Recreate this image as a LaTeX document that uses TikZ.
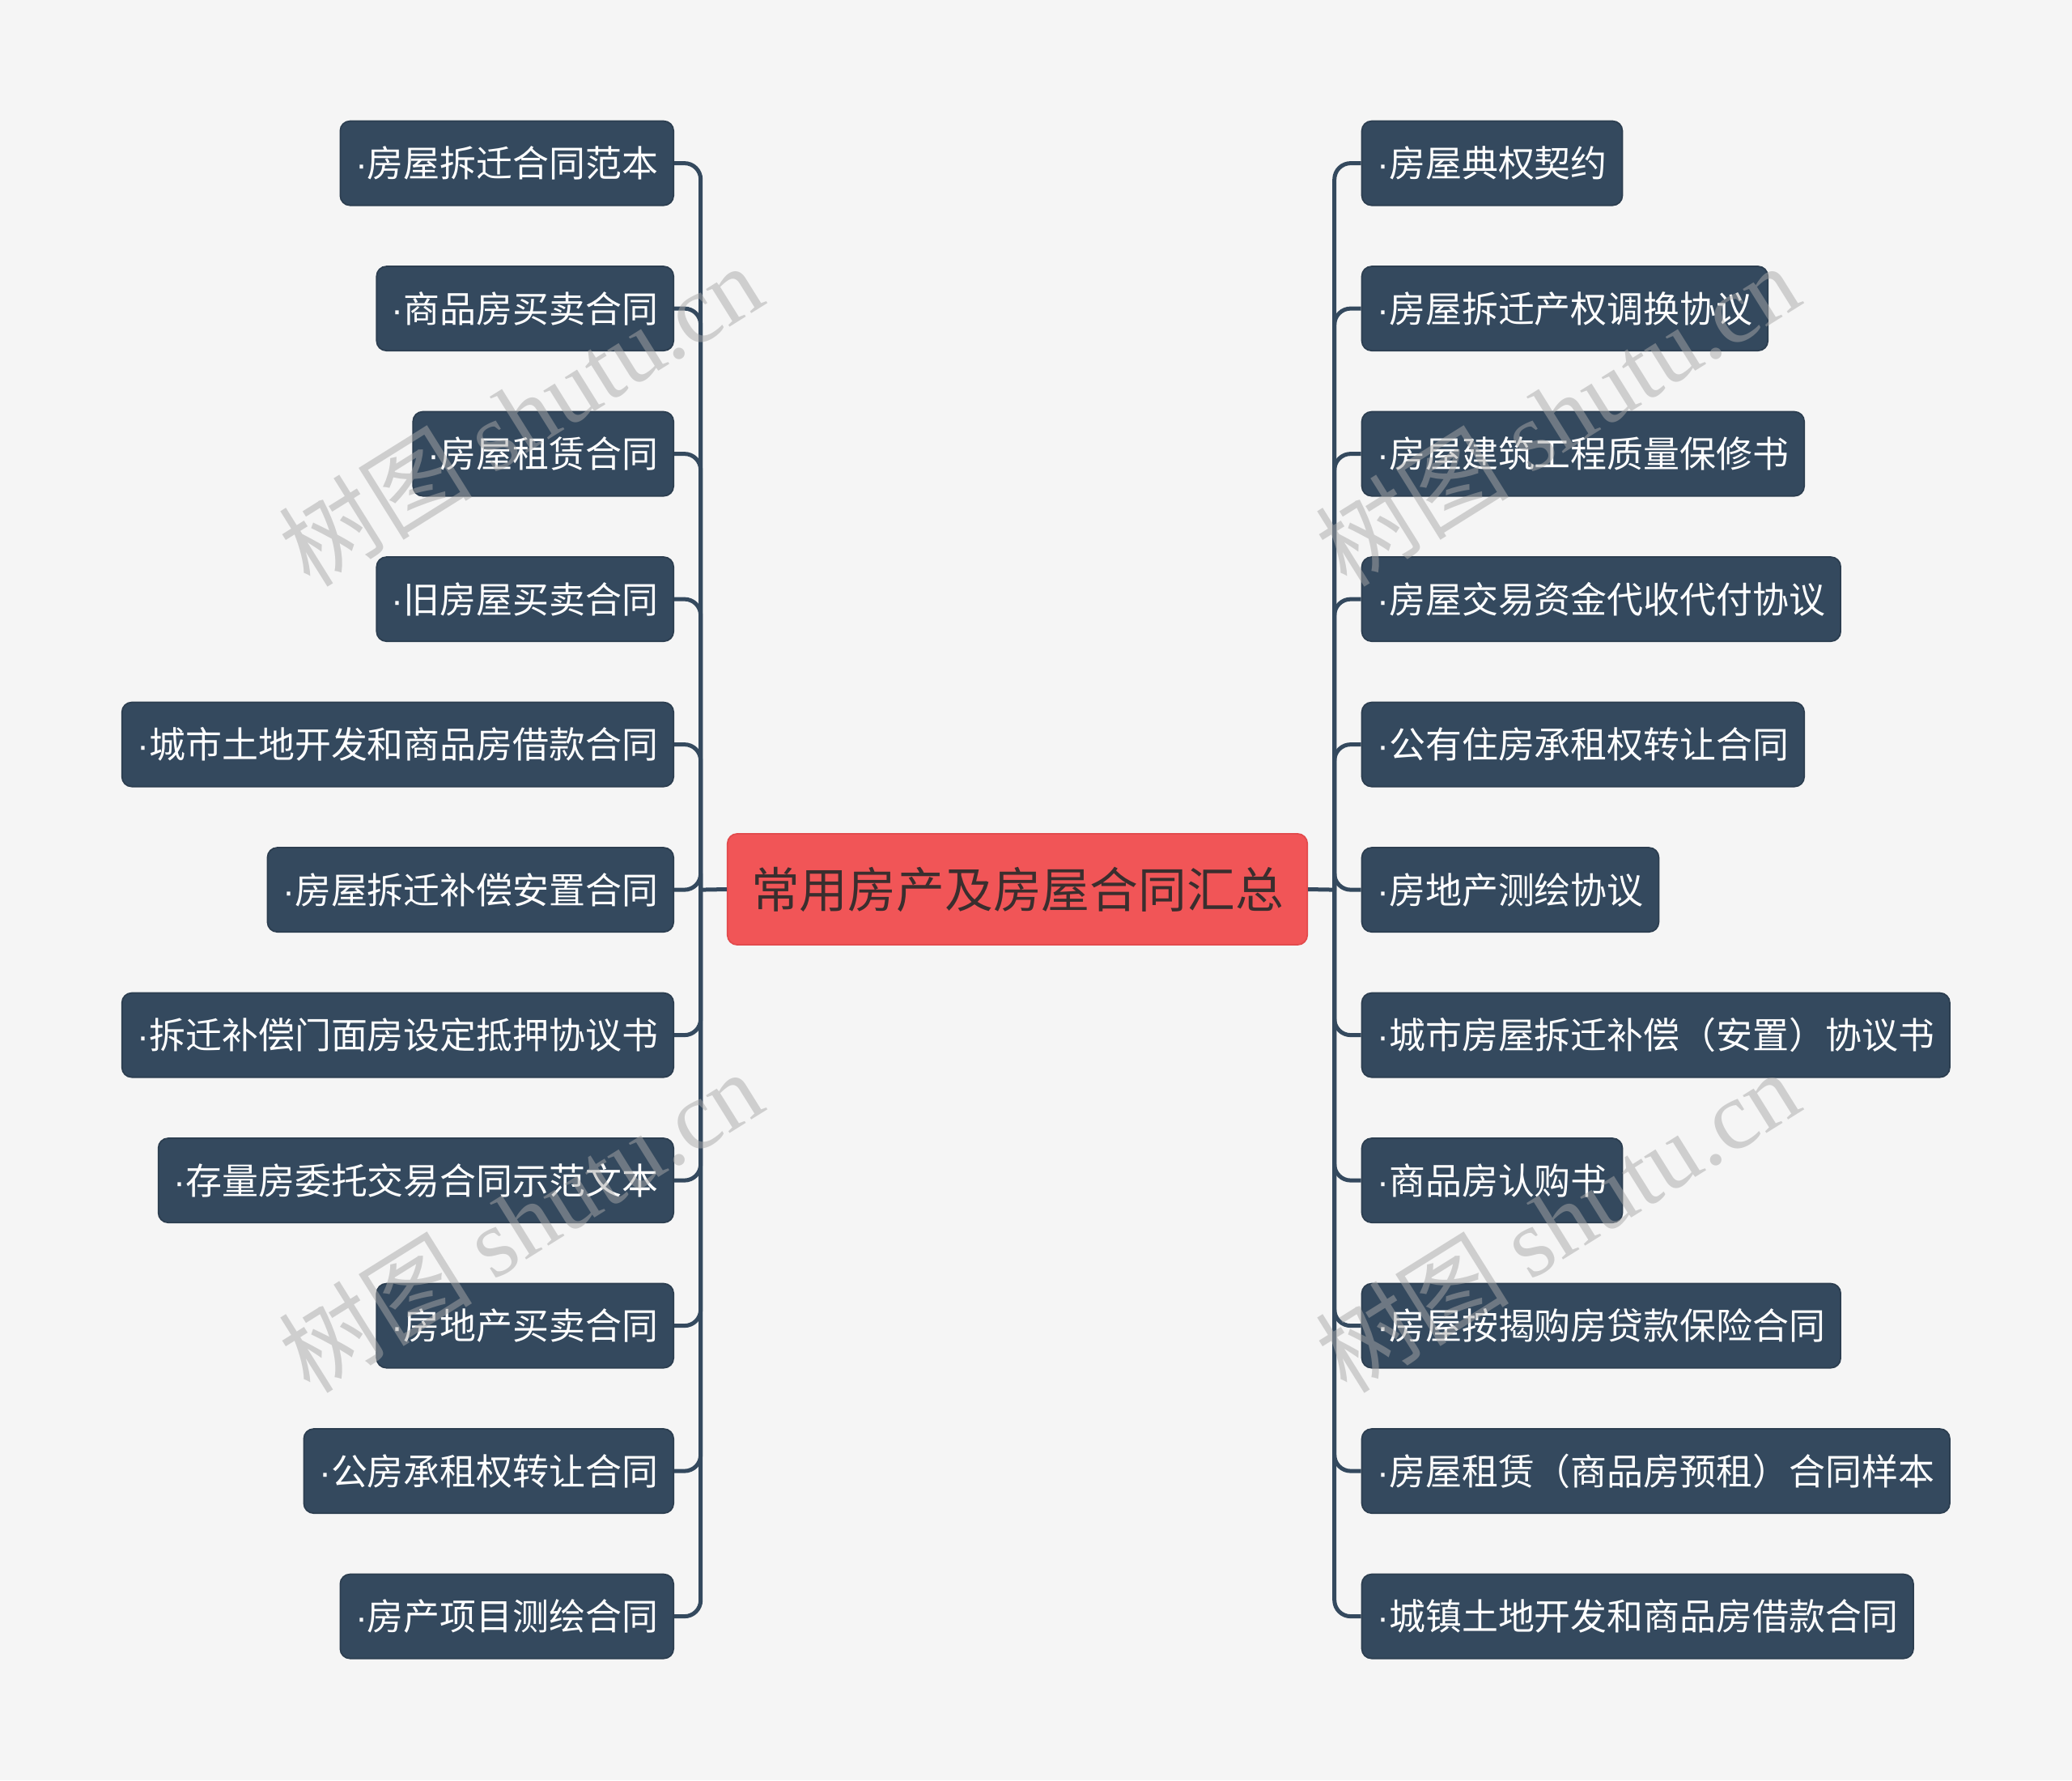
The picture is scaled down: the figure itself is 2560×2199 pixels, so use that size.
\documentclass[tikz,border=0pt]{standalone}
\usepackage{fontspec}
\setmainfont{Noto Sans CJK SC}
\newfontfamily\wmlatin{Liberation Serif}
\newfontfamily\dotfont{Liberation Sans}
\newcommand{\mydot}{{\dotfont ·}}
\definecolor{pagebg}{HTML}{F5F5F5}
\definecolor{leafbg}{HTML}{34495E}
\definecolor{leafbd}{HTML}{2C3E50}
\definecolor{rootbg}{HTML}{F15557}
\definecolor{rootbd}{HTML}{E24B4D}
\definecolor{roottx}{HTML}{3A2E2E}
\definecolor{wmcol}{HTML}{A8A8A8}
\begin{document}
\begin{tikzpicture}[x=0.01cm,y=-0.01cm,
  leaf/.style={draw=leafbd, fill=leafbg, text=white, rounded corners=0.12cm,
    inner xsep=0.186cm, inner ysep=0pt, minimum height=1.04cm, line width=0.5pt,
    font=\fontsize{12.78pt}{15pt}\selectfont},
  lleaf/.style={leaf, anchor=east},
  rleaf/.style={leaf, anchor=west},
  root/.style={draw=rootbd, fill=rootbg, text=roottx, rounded corners=0.12cm,
    minimum width=7.16cm, minimum height=1.37cm, inner sep=0pt, line width=0.5pt,
    font=\fontsize{17pt}{20pt}\selectfont},
  conn/.style={draw=leafbg, line width=0.05cm},
  linkbend/.style={conn, rounded corners=0.2cm},
  wm/.style={text=wmcol, opacity=0.5, rotate=32, inner sep=0pt,
    font=\fontsize{34pt}{38pt}\selectfont}
]
\fill[pagebg] (0,0) rectangle (2560,2199);
\useasboundingbox (0,0) rectangle (2560,2199);

\node[root] (c) at (1257,1098.5) {常用房产及房屋合同汇总};

\coordinate (jl) at (865.7,1099.1);
\coordinate (jr) at (1648.7,1099.1);

\node[lleaf] (l0) at (833,201.6) {\mydot 房屋拆迁合同范本};
\node[lleaf] (l1) at (833,381.1) {\mydot 商品房买卖合同};
\node[lleaf] (l2) at (833,560.6) {\mydot 房屋租赁合同};
\node[lleaf] (l3) at (833,740.1) {\mydot 旧房屋买卖合同};
\node[lleaf] (l4) at (833,919.6) {\mydot 城市土地开发和商品房借款合同};
\node[lleaf] (l5) at (833,1099.1) {\mydot 房屋拆迁补偿安置合同};
\node[lleaf] (l6) at (833,1278.6) {\mydot 拆迁补偿门面房设定抵押协议书};
\node[lleaf] (l7) at (833,1458.1) {\mydot 存量房委托交易合同示范文本};
\node[lleaf] (l8) at (833,1637.6) {\mydot 房地产买卖合同};
\node[lleaf] (l9) at (833,1817.1) {\mydot 公房承租权转让合同};
\node[lleaf] (l10) at (833,1996.6) {\mydot 房产项目测绘合同};

\node[rleaf] (r0) at (1681.7,201.6) {\mydot 房屋典权契约};
\node[rleaf] (r1) at (1681.7,381.1) {\mydot 房屋拆迁产权调换协议};
\node[rleaf] (r2) at (1681.7,560.6) {\mydot 房屋建筑工程质量保修书};
\node[rleaf] (r3) at (1681.7,740.1) {\mydot 房屋交易资金代收代付协议};
\node[rleaf] (r4) at (1681.7,919.6) {\mydot 公有住房承租权转让合同};
\node[rleaf] (r5) at (1681.7,1099.1) {\mydot 房地产测绘协议};
\node[rleaf] (r6) at (1681.7,1278.6) {\mydot 城市房屋拆迁补偿（安置）协议书};
\node[rleaf] (r7) at (1681.7,1458.1) {\mydot 商品房认购书};
\node[rleaf] (r8) at (1681.7,1637.6) {\mydot 房屋按揭购房贷款保险合同};
\node[rleaf] (r9) at (1681.7,1817.1) {\mydot 房屋租赁（商品房预租）合同样本};
\node[rleaf] (r10) at (1681.7,1996.6) {\mydot 城镇土地开发和商品房借款合同};

\draw[conn] (c.west) -- (jl);
\draw[conn] (c.east) -- (jr);
\foreach \i in {0,...,10} {
  \draw[linkbend] (jl) |- (l\i.east);
  \draw[linkbend] (jr) |- (r\i.west);
}

\node[wm] (w1) at (643,512) {树图 {\wmlatin shutu.cn}};
\node[wm] (w2) at (643,1508) {树图 {\wmlatin shutu.cn}};
\node[wm] (w3) at (1924,512) {树图 {\wmlatin shutu.cn}};
\node[wm] (w4) at (1924,1508) {树图 {\wmlatin shutu.cn}};
\end{tikzpicture}
\end{document}
